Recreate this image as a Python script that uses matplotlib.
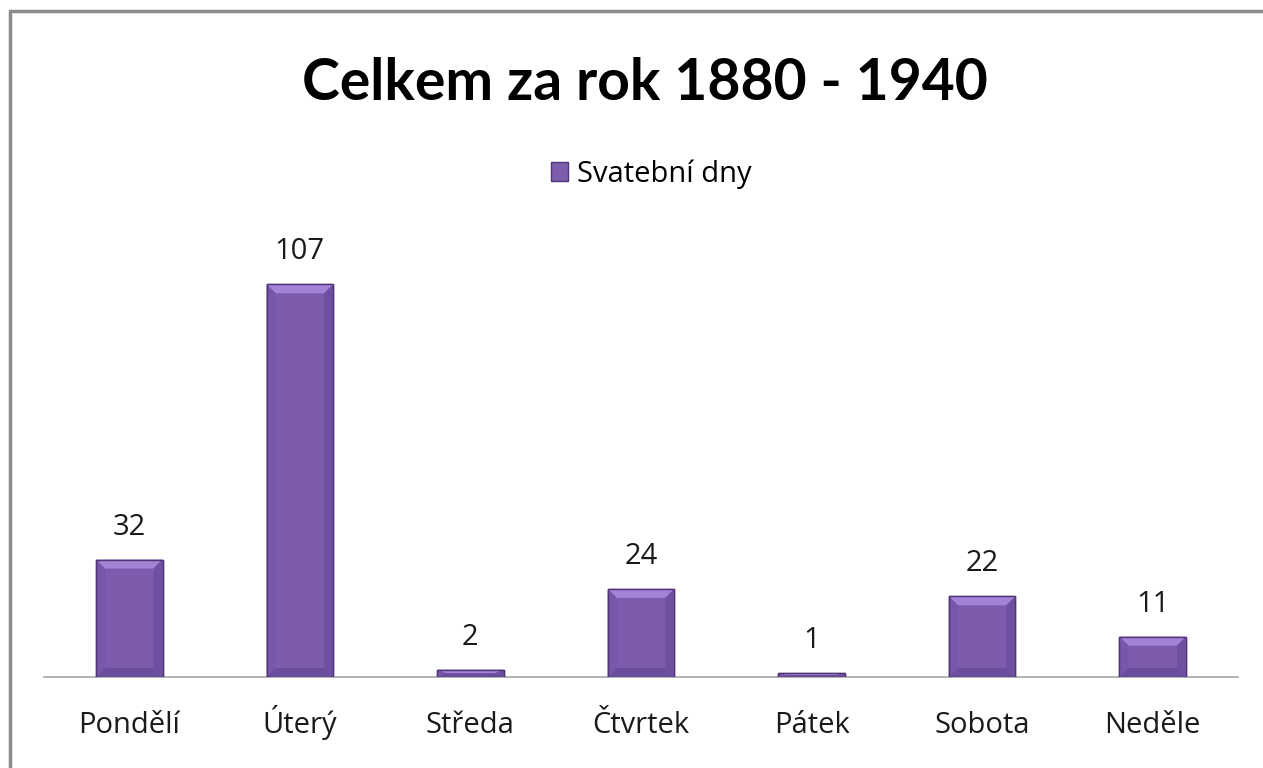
import matplotlib.pyplot as plt
from matplotlib.patches import Rectangle, Polygon

# Data
dny = ["Pondělí", "Úterý", "Středa", "Čtvrtek", "Pátek", "Sobota", "Neděle"]
pocty = [32, 107, 2, 24, 1, 22, 11]

plt.rcParams['font.family'] = ['Open Sans', 'DejaVu Sans']

W, H = 1263, 768
fig = plt.figure(figsize=(W / 100, H / 100), dpi=100)

# plot area in pixels
x0, x1 = 44, 1238
y_base, y_top = 677, 240
ax = fig.add_axes([x0 / W, 1 - y_base / H, (x1 - x0) / W, (y_base - y_top) / H])
px_y = 3.67                      # pixels per unit
px_x = (x1 - x0) / len(dny)      # pixels per category

pos = list(range(len(dny)))
sirka = 0.39
bars = ax.bar(pos, pocty, width=sirka, color='#7d5cae', edgecolor='#4f3578',
              linewidth=1.0, label='Svatební dny', zorder=3)

# bevel look: lighter top, darker sides/bottom
for b in bars:
    l, r, h = b.get_x(), b.get_x() + b.get_width(), b.get_height()
    bx = 9 / px_x
    by = min(9 / px_y, h / 2)
    ax.add_patch(Polygon([(l, h), (r, h), (r - bx, h - by), (l + bx, h - by)],
                         closed=True, color='#a283d6', lw=0, zorder=4))
    ax.add_patch(Polygon([(l, 0), (r, 0), (r - bx, by), (l + bx, by)],
                         closed=True, color='#6b4d9e', lw=0, zorder=4))
    ax.add_patch(Polygon([(r, 0), (r, h), (r - bx, h - by), (r - bx, by)],
                         closed=True, color='#6e50a1', lw=0, zorder=4))
    ax.add_patch(Polygon([(l, 0), (l, h), (l + bx, h - by), (l + bx, by)],
                         closed=True, color='#7757aa', lw=0, zorder=4))
    ax.add_patch(Rectangle((l, 0), r - l, h, fill=False, edgecolor='#4f3578', lw=1.0, zorder=5))

for p, v in zip(pos, pocty):
    ax.text(p, v + 25 / px_y, str(v), ha='center', va='baseline', fontsize=21, color='#1a1a1a')

ax.set_xlim(-0.5, len(dny) - 0.5)
ax.set_ylim(0, (y_base - y_top) / px_y)
ax.set_xticks([])
ax.set_yticks([])
for p, d in zip(pos, dny):
    ax.text(p, -(733 - y_base) / (y_base - y_top), d, transform=ax.get_xaxis_transform(),
            ha='center', va='baseline', fontsize=21, color='#1a1a1a')
for s in ['top', 'right', 'left']:
    ax.spines[s].set_visible(False)
ax.spines['bottom'].set_color('#a6a6a6')
ax.spines['bottom'].set_linewidth(1.2)

fig.text(645 / W, 1 - 100 / H, "Celkem za rok 1880 - 1940", ha='center', va='baseline',
         fontsize=41, fontweight='bold', color='black', family=['Lato', 'DejaVu Sans'])

leg = fig.legend(handles=[bars], labels=['Svatební dny'], loc='center',
                 bbox_to_anchor=(651 / W, 1 - 174 / H), frameon=False, fontsize=21,
                 handlelength=0.6, handleheight=0.6, handletextpad=0.3)

# outer frame
fig.patches.append(Rectangle((10 / W, -0.05), 1.1, 1 - 11 / H + 0.05, transform=fig.transFigure,
                             fill=False, edgecolor='#8c8c8c', linewidth=2.5))

fig.savefig('out.png', dpi=100)
